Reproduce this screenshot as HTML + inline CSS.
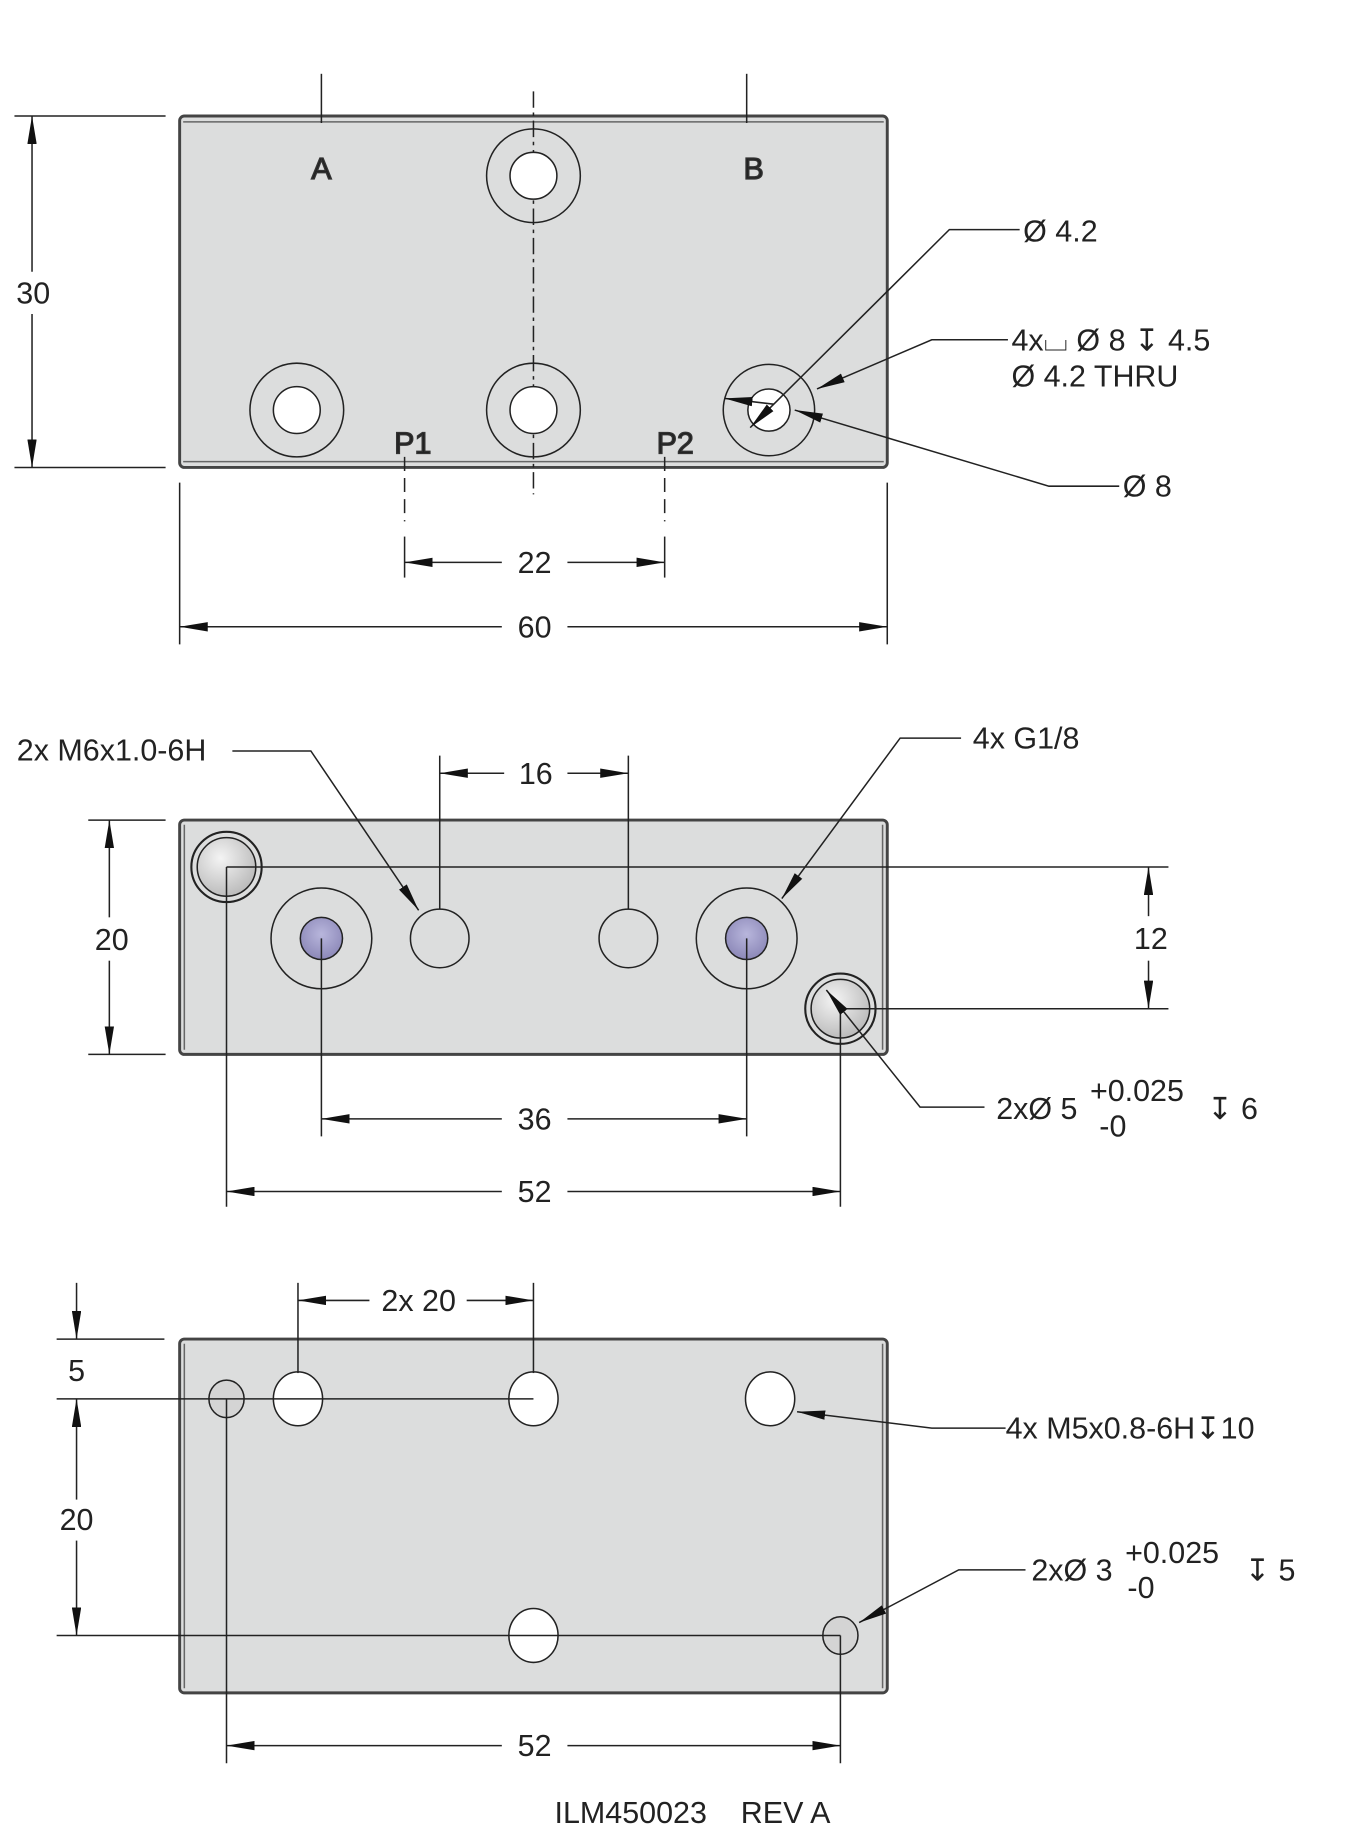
<!DOCTYPE html>
<html><head><meta charset="utf-8"><style>
html,body{margin:0;padding:0;background:#fff}
svg{display:block}
text{font-family:"Liberation Sans","DejaVu Sans",sans-serif;fill:#222;font-size:26px}
</style></head><body>
<svg width="1368" height="1837" viewBox="0 0 1167 1568" xmlns="http://www.w3.org/2000/svg">
<defs>
<marker id="a" viewBox="0 0 24 8" refX="24" refY="4" markerWidth="24" markerHeight="8" markerUnits="userSpaceOnUse" orient="auto-start-reverse"><path d="M0,0 L24,4 L0,8 Z" fill="#111"/></marker>
<radialGradient id="g" cx="0.4" cy="0.35" r="0.7"><stop offset="0" stop-color="#f4f4f4"/><stop offset="1" stop-color="#b8b8b8"/></radialGradient>
<radialGradient id="p" cx="0.5" cy="0.4" r="0.6"><stop offset="0" stop-color="#b8b6dc"/><stop offset="1" stop-color="#8c88b8"/></radialGradient>
</defs>
<g stroke="#222" stroke-width="1.3" fill="none">
<rect x="153" y="99" width="604" height="300" rx="4" fill="#dcdddd" stroke="#444" stroke-width="2.5"/>
<line x1="156" y1="104" x2="754" y2="104" stroke="#666"/>
<line x1="156" y1="394" x2="754" y2="394" stroke="#666"/>
<line x1="455" y1="78" x2="455" y2="422" stroke-dasharray="14,4,3,4"/>
<line x1="274" y1="63" x2="274" y2="105"/>
<line x1="637" y1="63" x2="637" y2="105"/>
<circle cx="455" cy="150" r="40"/><circle cx="455" cy="150" r="20" fill="#fff"/>
<circle cx="253" cy="350" r="40"/><circle cx="253" cy="350" r="20" fill="#fff"/>
<circle cx="455" cy="350" r="40"/><circle cx="455" cy="350" r="20" fill="#fff"/>
<circle cx="656" cy="350" r="39"/><circle cx="656" cy="350" r="18" fill="#fff"/>
<line x1="345" y1="390" x2="345" y2="445" stroke-dasharray="12,6"/>
<line x1="567" y1="390" x2="567" y2="445" stroke-dasharray="12,6"/>
<line x1="345" y1="458" x2="345" y2="493"/><line x1="567" y1="458" x2="567" y2="493"/>
<line x1="345" y1="480" x2="428" y2="480" marker-start="url(#a)"/><line x1="484" y1="480" x2="567" y2="480" marker-end="url(#a)"/>
<line x1="153" y1="412" x2="153" y2="550"/><line x1="757" y1="412" x2="757" y2="550"/>
<line x1="153" y1="535" x2="428" y2="535" marker-start="url(#a)"/><line x1="484" y1="535" x2="757" y2="535" marker-end="url(#a)"/>
<line x1="12" y1="99" x2="141" y2="99"/><line x1="12" y1="399" x2="141" y2="399"/>
<line x1="27" y1="99" x2="27" y2="232" marker-start="url(#a)"/><line x1="27" y1="268" x2="27" y2="399" marker-end="url(#a)"/>
<polyline points="870,196 810,196 640,365" marker-end="url(#a)"/>
<polyline points="860,290 795,290 697,332" marker-end="url(#a)"/>
<polyline points="955,415 895,415 678,350" marker-end="url(#a)"/>
<line x1="660" y1="345" x2="618" y2="340" marker-end="url(#a)"/>
<rect x="153" y="700" width="604" height="200" rx="4" fill="#dcdddd" stroke="#444" stroke-width="2.5"/>
<line x1="157" y1="704" x2="157" y2="896" stroke="#666"/>
<line x1="753" y1="704" x2="753" y2="896" stroke="#666"/>
<circle cx="193" cy="740" r="30" stroke-width="1.8"/><circle cx="193" cy="740" r="25" fill="url(#g)"/>
<circle cx="717" cy="861" r="30" stroke-width="1.8"/><circle cx="717" cy="861" r="25" fill="url(#g)"/>
<circle cx="274" cy="801" r="43"/><circle cx="274" cy="801" r="18" fill="url(#p)"/>
<circle cx="637" cy="801" r="43"/><circle cx="637" cy="801" r="18" fill="url(#p)"/>
<circle cx="375" cy="801" r="25"/><circle cx="536" cy="801" r="25"/>
<line x1="193" y1="740" x2="997" y2="740"/><line x1="717" y1="861" x2="997" y2="861"/>
<line x1="980" y1="740" x2="980" y2="782" marker-start="url(#a)"/><line x1="980" y1="820" x2="980" y2="861" marker-end="url(#a)"/>
<line x1="75" y1="700" x2="141" y2="700"/><line x1="75" y1="900" x2="141" y2="900"/>
<line x1="93" y1="700" x2="93" y2="783" marker-start="url(#a)"/><line x1="93" y1="820" x2="93" y2="900" marker-end="url(#a)"/>
<line x1="375" y1="645" x2="375" y2="776"/><line x1="536" y1="645" x2="536" y2="776"/>
<line x1="375" y1="660" x2="430" y2="660" marker-start="url(#a)"/><line x1="484" y1="660" x2="536" y2="660" marker-end="url(#a)"/>
<polyline points="198,641 265,641 357,777" marker-end="url(#a)"/>
<polyline points="820,630 768,630 667,767" marker-end="url(#a)"/>
<line x1="274" y1="801" x2="274" y2="970"/><line x1="637" y1="801" x2="637" y2="970"/>
<line x1="274" y1="955" x2="428" y2="955" marker-start="url(#a)"/><line x1="484" y1="955" x2="637" y2="955" marker-end="url(#a)"/>
<line x1="193" y1="740" x2="193" y2="1030"/><line x1="717" y1="861" x2="717" y2="1030"/>
<line x1="193" y1="1017" x2="428" y2="1017" marker-start="url(#a)"/><line x1="484" y1="1017" x2="717" y2="1017" marker-end="url(#a)"/>
<polyline points="840,945 785,945 705,845" marker-end="url(#a)"/>
<rect x="153" y="1143" width="604" height="302" rx="4" fill="#dcdddd" stroke="#444" stroke-width="2.5"/>
<line x1="157" y1="1147" x2="157" y2="1441" stroke="#666"/>
<line x1="753" y1="1147" x2="753" y2="1441" stroke="#666"/>
<ellipse cx="193" cy="1194" rx="15" ry="16" fill="#d4d4d4"/>
<ellipse cx="254" cy="1194" rx="21" ry="23" fill="#fff"/>
<ellipse cx="455" cy="1194" rx="21" ry="23" fill="#fff"/>
<ellipse cx="657" cy="1194" rx="21" ry="23" fill="#fff"/>
<ellipse cx="455" cy="1396" rx="21" ry="23" fill="#fff"/>
<ellipse cx="717" cy="1396" rx="15" ry="16" fill="#d4d4d4"/>
<line x1="48" y1="1194" x2="455" y2="1194"/><line x1="48" y1="1396" x2="717" y2="1396"/>
<line x1="48" y1="1143" x2="140" y2="1143"/>
<line x1="65" y1="1095" x2="65" y2="1143" marker-end="url(#a)"/>
<line x1="65" y1="1280" x2="65" y2="1194" marker-end="url(#a)"/>
<line x1="65" y1="1315" x2="65" y2="1396" marker-end="url(#a)"/>
<line x1="254" y1="1095" x2="254" y2="1172"/><line x1="455" y1="1095" x2="455" y2="1172"/>
<line x1="254" y1="1110" x2="315" y2="1110" marker-start="url(#a)"/><line x1="398" y1="1110" x2="455" y2="1110" marker-end="url(#a)"/>
<polyline points="858,1219 795,1219 680,1205" marker-end="url(#a)"/>
<polyline points="875,1340 818,1340 733,1385" marker-end="url(#a)"/>
<line x1="193" y1="1194" x2="193" y2="1505"/><line x1="717" y1="1396" x2="717" y2="1505"/>
<line x1="193" y1="1490" x2="428" y2="1490" marker-start="url(#a)"/><line x1="484" y1="1490" x2="717" y2="1490" marker-end="url(#a)"/>
</g>
<g>
<text x="274" y="153" text-anchor="middle" font-size="40" fill="#dcdddd" stroke="#333" stroke-width="1.1">A</text>
<text x="643" y="153" text-anchor="middle" font-size="40" fill="#dcdddd" stroke="#333" stroke-width="1.1">B</text>
<text x="352" y="387" text-anchor="middle" font-size="40" fill="#dcdddd" stroke="#333" stroke-width="1.1">P1</text>
<text x="576" y="387" text-anchor="middle" font-size="40" fill="#dcdddd" stroke="#333" stroke-width="1.1">P2</text>
<text x="456" y="489" text-anchor="middle">22</text>
<text x="456" y="544" text-anchor="middle">60</text>
<text x="28" y="259" text-anchor="middle">30</text>
<text x="873" y="206">Ø 4.2</text>
<text x="863" y="299">4x⌴ Ø 8 ↧ 4.5</text>
<text x="863" y="330">Ø 4.2 THRU</text>
<text x="958" y="424">Ø 8</text>
<text x="14" y="649">2x M6x1.0-6H</text>
<text x="830" y="639">4x G1/8</text>
<text x="457" y="669" text-anchor="middle">16</text>
<text x="982" y="810" text-anchor="middle">12</text>
<text x="95" y="811" text-anchor="middle">20</text>
<text x="456" y="964" text-anchor="middle">36</text>
<text x="456" y="1026" text-anchor="middle">52</text>
<text x="850" y="955">2xØ 5</text>
<text x="930" y="940">+0.025</text>
<text x="938" y="970">-0</text>
<text x="1030" y="955">↧ 6</text>
<text x="357" y="1119" text-anchor="middle">2x 20</text>
<text x="65" y="1179" text-anchor="middle">5</text>
<text x="65" y="1306" text-anchor="middle">20</text>
<text x="858" y="1228">4x M5x0.8-6H↧10</text>
<text x="880" y="1349">2xØ 3</text>
<text x="960" y="1334">+0.025</text>
<text x="962" y="1364">-0</text>
<text x="1062" y="1349">↧ 5</text>
<text x="456" y="1499" text-anchor="middle">52</text>
<text x="473" y="1556" xml:space="preserve">ILM450023    REV A</text>
</g>
</svg>
</body></html>
